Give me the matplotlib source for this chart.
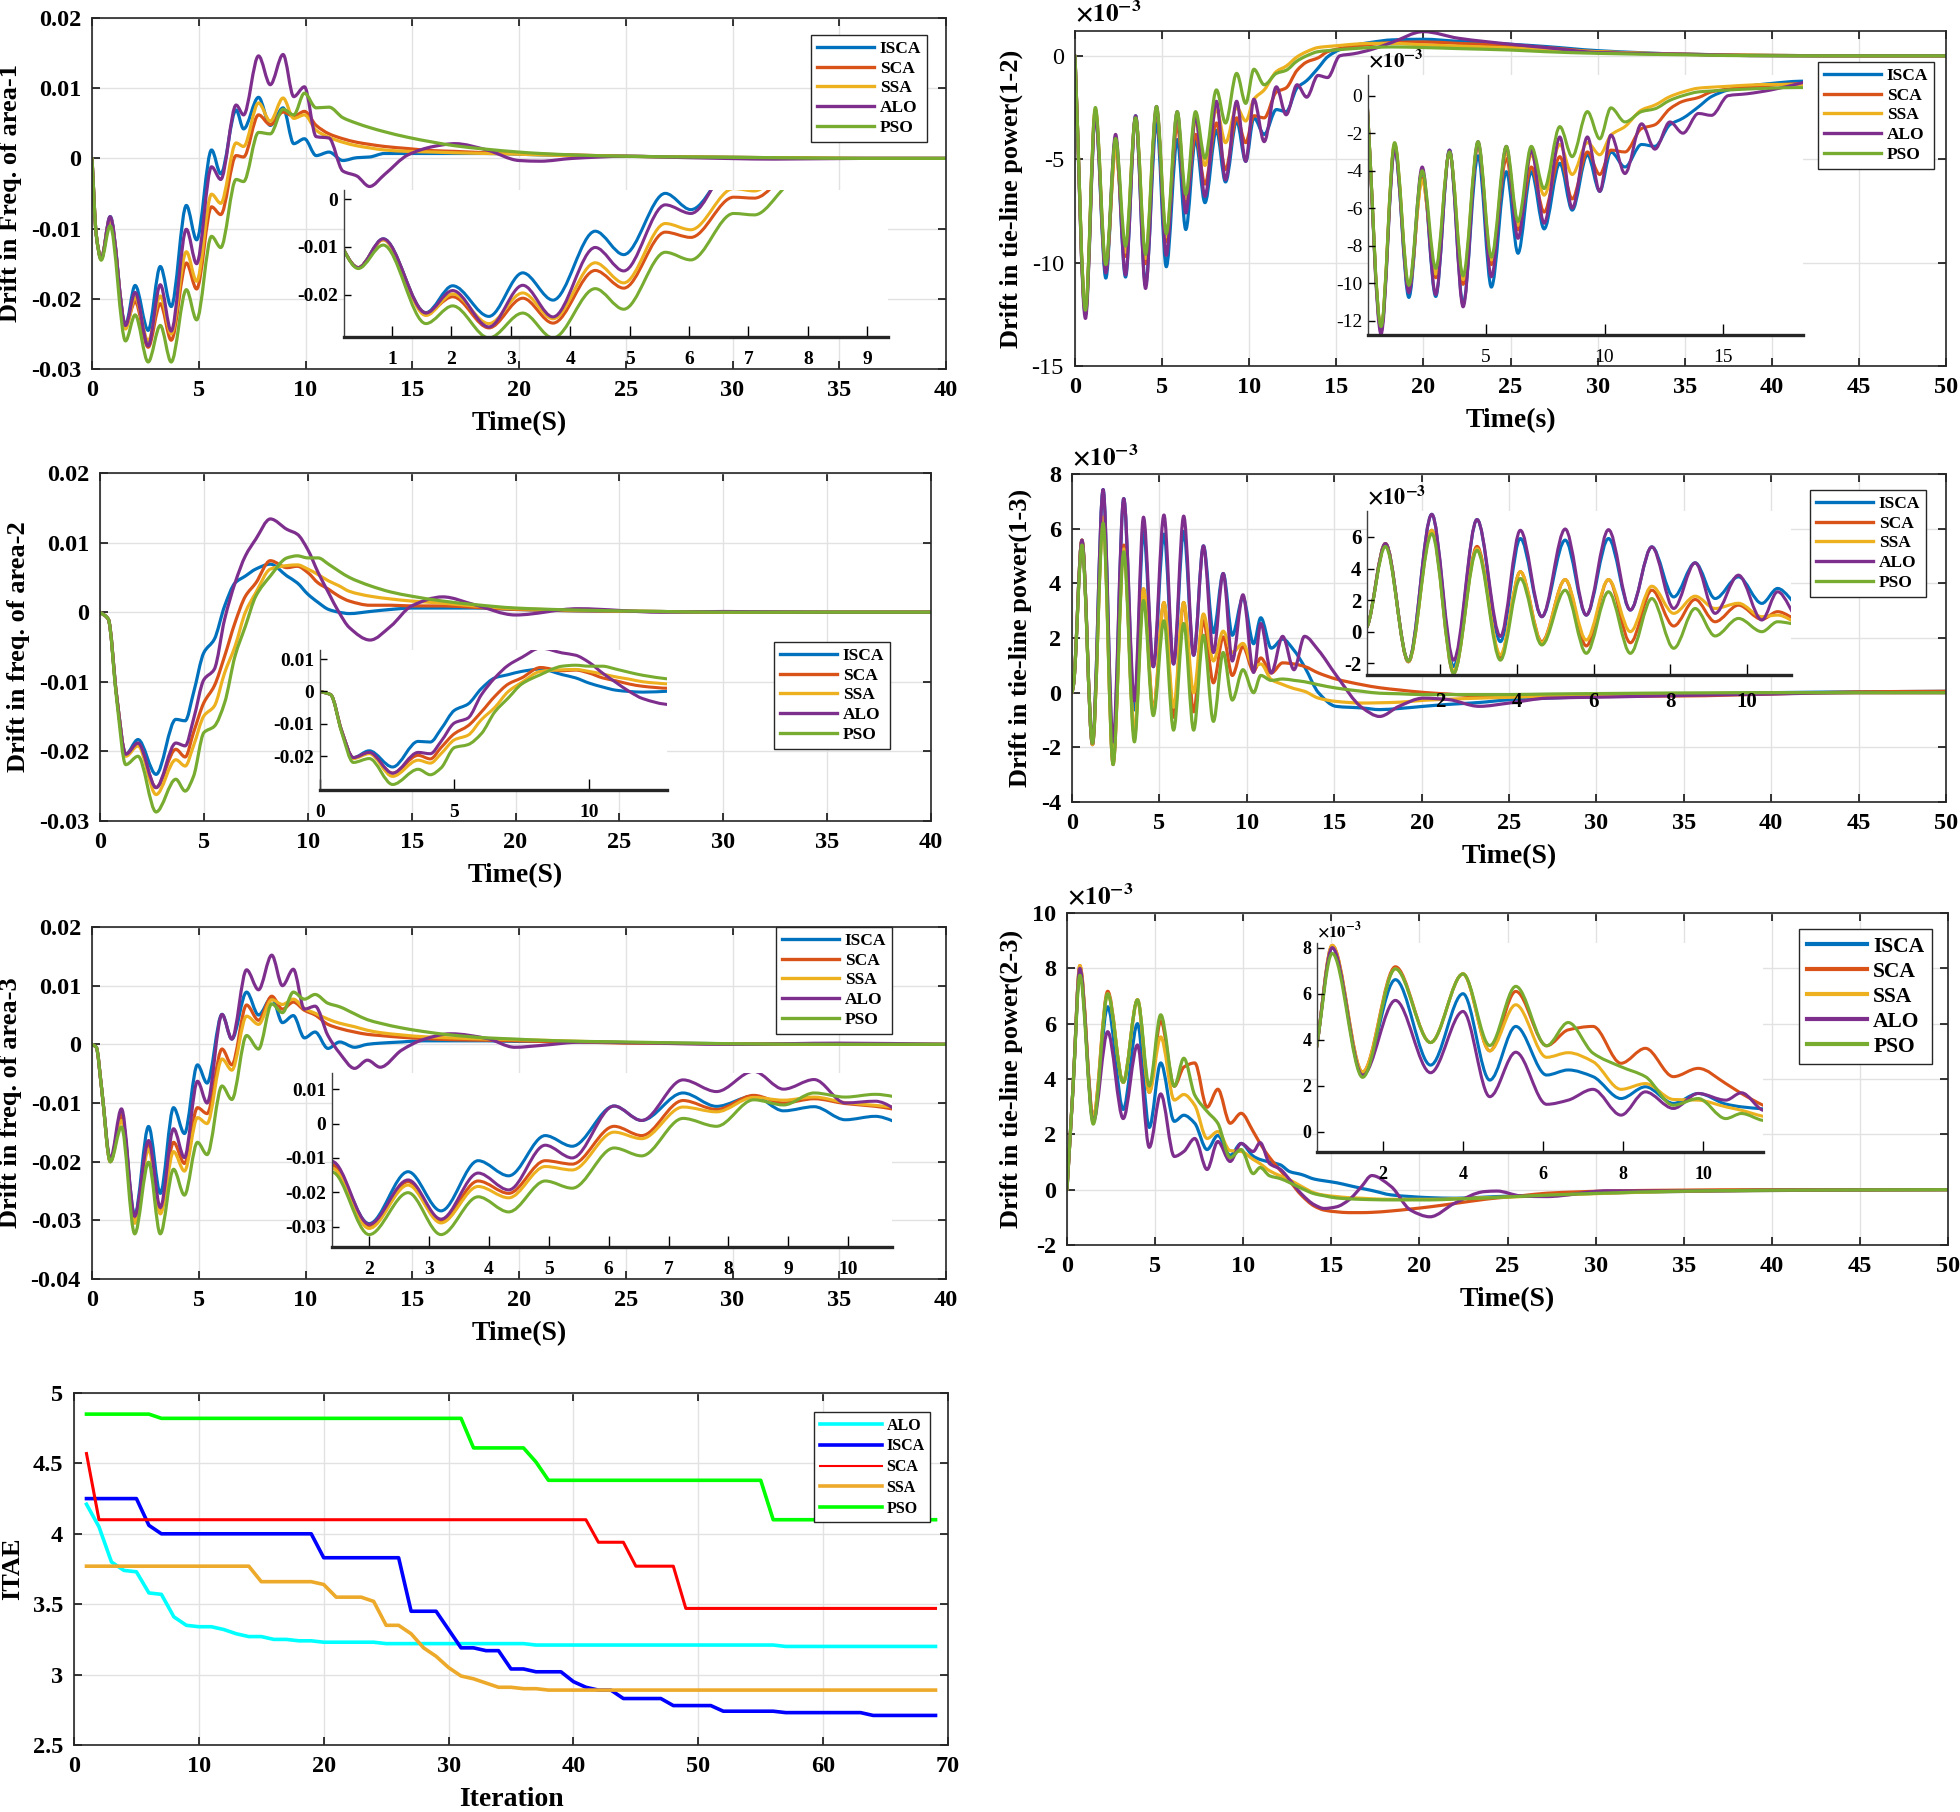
import numpy as np
import matplotlib
matplotlib.use("Agg")
import matplotlib.pyplot as plt
from matplotlib.path import Path
from matplotlib.patches import PathPatch
from matplotlib.lines import Line2D

plt.rcParams['font.family'] = ['Liberation Serif', 'DejaVu Serif']
plt.rcParams['font.weight'] = 'bold'
plt.rcParams['axes.unicode_minus'] = False
plt.rcParams['mathtext.fontset'] = 'stix'

names = ["ISCA", "SCA", "SSA", "ALO", "PSO"]
colors = ["#0072BD", "#D95319", "#EDB120", "#7E2F8E", "#77AC30"]

# ---- frequency deviation, area 1 ----
f1_t = [0, 0.2, 0.43, 0.85, 1.57, 2.02, 2.63, 3.2, 3.71, 4.42, 4.9, 5.6, 6.03, 6.75, 7.1, 7.8, 8.35, 8.95, 9.45,
        9.95, 10.5, 11.1, 11.75, 12.4, 13.0, 13.7, 14.8, 16.0, 17.0, 18.5, 20.0, 21.0, 22.5, 25.0, 28.0, 32.0, 36.0, 40.0]
f1_isca = [0, -0.0109, -0.0143, -0.0083, -0.0237, -0.0181, -0.0245, -0.0154, -0.0211, -0.0067, -0.0116, 0.0012,
           -0.0022, 0.0069, 0.0042, 0.0087, 0.0047, 0.0072, 0.0021, 0.0028, 0.0004, 0.0009, -0.0003, 0.0001, 0.0002,
           0.0007, 0.0007, 0.0007, 0.0007, 0.0007, 0.0006, 0.0005, 0.0004, 0.0003, 0.0002, 0.0001, 0.0, 0.0]
f1_sca = [0, -0.0109, -0.0143, -0.0085, -0.0238, -0.0204, -0.0269, -0.0207, -0.0259, -0.0149, -0.0186, -0.0069,
          -0.0080, 0.0004, 0.0002, 0.0062, 0.0048, 0.0066, 0.0060, 0.0067, 0.0047, 0.0035, 0.0028, 0.0023, 0.0020,
          0.0017, 0.0014, 0.0011, 0.0010, 0.0008, 0.0007, 0.0006, 0.0005, 0.0003, 0.0002, 0.0001, 0.0, 0.0]
f1_ssa = [0, -0.0109, -0.0143, -0.0085, -0.0243, -0.0198, -0.0260, -0.0196, -0.0250, -0.0133, -0.0175, -0.0051,
          -0.0064, 0.0022, 0.0017, 0.0079, 0.0053, 0.0086, 0.0057, 0.0062, 0.0040, 0.0030, 0.0023, 0.0018, 0.0015,
          0.0012, 0.0010, 0.0009, 0.0008, 0.0007, 0.0006, 0.0005, 0.0004, 0.0003, 0.0002, 0.0001, 0.0, 0.0]
f1_alo = [0, -0.0109, -0.0143, -0.0083, -0.0238, -0.0191, -0.0267, -0.0180, -0.0246, -0.0101, -0.0150, -0.0012,
          -0.0030, 0.0076, 0.0062, 0.0146, 0.0105, 0.0148, 0.0088, 0.0102, 0.0031, 0.0029, -0.0018, -0.0025, -0.0040,
          -0.0023, 0.0005, 0.0017, 0.0021, 0.0012, -0.0003, -0.0004, 0.0000, 0.0003, 0.0001, -0.0001, 0.0, 0.0]
f1_pso = [0, -0.0109, -0.0145, -0.0096, -0.0260, -0.0223, -0.0290, -0.0238, -0.0290, -0.0187, -0.0230, -0.0111,
          -0.0127, -0.0030, -0.0033, 0.0037, 0.0035, 0.0070, 0.0062, 0.0093, 0.0072, 0.0073, 0.0058, 0.0050, 0.0044,
          0.0038, 0.0030, 0.0023, 0.0018, 0.0013, 0.0009, 0.0007, 0.0005, 0.0003, 0.0002, 0.0001, 0.0, 0.0]

# ---- tie-line power 1-2 (x1e-3) ----
p12_t = [0, 0.6, 1.17, 1.77, 2.33, 2.9, 3.48, 4.05, 4.68, 5.24, 5.87, 6.36, 6.92, 7.46, 8.12, 8.64, 9.28, 9.8, 10.27,
         10.86, 11.56, 12.12, 12.75, 13.3, 13.95, 14.5, 15.2, 16.0, 17.0, 18.2, 20.0, 22.0, 25.0, 27.0, 30.0, 35.0,
         40.0, 45.0, 50.0]
p12_isca = [0, -12.5, -2.8, -10.75, -4.0, -10.7, -2.9, -11.1, -3.2, -10.2, -4.05, -8.4, -4.05, -7.1, -3.6, -6.1,
            -3.15, -5.1, -3.0, -3.8, -2.6, -2.7, -1.55, -1.2, -0.6, -0.05, 0.3, 0.5, 0.65, 0.77, 0.8, 0.7, 0.56, 0.45,
            0.25, 0.08, 0.02, 0.0, 0.0]
p12_sca = [0, -12.4, -2.6, -10.3, -4.4, -9.7, -3.0, -10.05, -2.6, -9.0, -3.35, -7.15, -3.8, -6.2, -3.25, -5.5, -3.0,
           -4.2, -2.9, -3.0, -1.75, -1.55, -0.7, -0.3, -0.1, 0.2, 0.35, 0.45, 0.55, 0.64, 0.67, 0.6, 0.5, 0.4, 0.2,
           0.07, 0.02, 0.0, 0.0]
p12_ssa = [0, -12.4, -2.6, -10.3, -4.5, -9.5, -3.0, -9.8, -2.6, -8.75, -3.0, -6.9, -3.15, -5.3, -2.6, -4.2, -2.5,
           -3.15, -2.1, -1.65, -0.76, -0.5, -0.05, 0.2, 0.4, 0.45, 0.5, 0.56, 0.6, 0.6, 0.53, 0.47, 0.38, 0.3, 0.2,
           0.08, 0.02, 0.0, 0.0]
p12_alo = [0, -12.7, -2.85, -10.5, -3.8, -10.6, -2.9, -11.25, -2.45, -9.65, -2.7, -7.6, -2.9, -6.8, -2.2, -6.0, -2.2,
           -5.1, -2.1, -4.15, -1.5, -2.85, -1.4, -2.0, -0.95, -1.05, 0.0, 0.1, 0.3, 0.65, 1.17, 0.85, 0.56, 0.4, 0.16,
           0.08, 0.0, 0.0, 0.0]
p12_pso = [0, -12.3, -2.5, -10.1, -4.0, -9.2, -3.0, -9.6, -2.45, -8.6, -2.7, -6.7, -2.7, -4.95, -1.65, -3.25, -0.85,
           -2.3, -0.65, -1.4, -0.85, -0.7, -0.25, 0.0, 0.2, 0.25, 0.3, 0.35, 0.4, 0.43, 0.4, 0.35, 0.28, 0.2, 0.12,
           0.05, 0.0, 0.0, 0.0]

# ---- frequency deviation, area 2 ----
f2_t = [0, 0.4, 0.8, 1.24, 1.83, 2.7, 3.65, 4.1, 4.5, 5.0, 5.5, 6.0, 6.5, 7.0, 7.5, 8.2, 9.0, 9.5, 10.0, 10.5, 11.0,
        11.5, 12.0, 13.0, 14.0, 15.0, 16.5, 18.0, 20.0, 23.0, 27.0, 30.0, 35.0, 40.0]
f2_isca = [0, -0.001, -0.012, -0.0204, -0.0183, -0.0233, -0.0154, -0.0156, -0.0116, -0.0058, -0.0039, 0.0009, 0.0042,
           0.0052, 0.0062, 0.0069, 0.0052, 0.0042, 0.0026, 0.0014, 0.0004, 0.0000, -0.0002, 0.0001, 0.0004, 0.0006,
           0.0006, 0.0006, 0.0004, 0.0002, 0.0001, 0.0, 0.0, 0.0]
f2_sca = [0, -0.001, -0.012, -0.0204, -0.0190, -0.0252, -0.0197, -0.0208, -0.0173, -0.0130, -0.0106, -0.0063,
          -0.0015, 0.0023, 0.0042, 0.0074, 0.0064, 0.0066, 0.0057, 0.0042, 0.0033, 0.0023, 0.0016, 0.0010, 0.0010,
          0.0009, 0.0009, 0.0007, 0.0004, 0.0002, 0.0001, 0.0, 0.0, 0.0]
f2_ssa = [0, -0.001, -0.012, -0.0207, -0.0192, -0.0262, -0.0212, -0.0221, -0.0192, -0.0149, -0.0135, -0.0087,
          -0.0049, 0.0000, 0.0028, 0.0062, 0.0067, 0.0068, 0.0062, 0.0054, 0.0045, 0.0038, 0.0030, 0.0023, 0.0019,
          0.0016, 0.0013, 0.0009, 0.0005, 0.0003, 0.0001, 0.0, 0.0, 0.0]
f2_alo = [0, -0.001, -0.012, -0.0204, -0.0188, -0.0252, -0.0188, -0.0192, -0.0154, -0.0097, -0.0082, -0.0010,
          0.0042, 0.0081, 0.0105, 0.0134, 0.0119, 0.0112, 0.0090, 0.0057, 0.0028, 0.0000, -0.0022, -0.0040, -0.0020,
          0.0009, 0.0022, 0.0011, -0.0004, 0.0005, 0.0000, 0.0001, 0.0, 0.0]
f2_pso = [0, -0.001, -0.0125, -0.0219, -0.0207, -0.0287, -0.0240, -0.0257, -0.0236, -0.0173, -0.0164, -0.0130,
          -0.0063, -0.0020, 0.0023, 0.0052, 0.0078, 0.0081, 0.0078, 0.0078, 0.0069, 0.0059, 0.0050, 0.0038, 0.0029,
          0.0023, 0.0016, 0.0011, 0.0006, 0.0003, 0.0001, 0.0, 0.0, 0.0]

# ---- tie-line power 1-3 (x1e-3) ----
p13_t = [0, 0.09, 0.57, 1.17, 1.78, 2.35, 2.96, 3.57, 4.09, 4.65, 5.26, 5.81, 6.39, 6.96, 7.52, 8.09, 8.65, 9.17,
         9.78, 10.39, 10.8, 11.4, 12.05, 12.7, 13.3, 14.1, 15.1, 16.6, 17.6, 18.7, 20.1, 21.5, 23.3, 25.0, 27.2,
         30.7, 35.0, 40.0, 45.0, 50.0]
p13_isca = [0, 0.3, 5.58, -1.9, 7.43, -2.2, 7.1, -0.63, 5.9, 0.95, 5.8, 1.05, 5.9, 1.37, 5.37, 2.2, 4.36, 2.1, 3.47,
            1.79, 2.74, 1.63, 1.96, 1.55, 0.95, 0.0, -0.5, -0.56, -0.62, -0.58, -0.5, -0.43, -0.36, -0.26, -0.2,
            -0.13, -0.07, 0.0, 0.03, 0.05]
p13_sca = [0, 0.3, 5.58, -1.9, 6.42, -2.63, 5.4, -1.58, 3.8, -0.63, 3.3, -0.9, 3.3, -0.7, 2.63, 0.36, 2.04, 0.63,
           1.68, 0.78, 1.27, 0.72, 1.09, 1.05, 0.96, 0.72, 0.5, 0.29, 0.18, 0.1, 0.01, -0.05, -0.12, -0.13, -0.13,
           -0.13, -0.12, -0.05, 0.03, 0.05]
p13_ssa = [0, 0.3, 5.58, -1.9, 6.42, -2.5, 5.26, -1.47, 3.8, -0.7, 3.3, -0.53, 3.3, 0.0, 2.88, 1.16, 2.25, 1.47, 1.8,
           0.95, 1.05, 0.48, 0.3, 0.15, 0.05, -0.2, -0.32, -0.38, -0.37, -0.35, -0.28, -0.24, -0.2, -0.17, -0.13,
           -0.08, -0.04, -0.02, 0.0, 0.0]
p13_alo = [0, 0.3, 5.58, -1.85, 7.43, -1.8, 7.1, -0.3, 6.42, 0.95, 6.5, 1.05, 6.46, 1.37, 5.37, 1.47, 4.36, 1.16,
           3.58, 0.74, 2.53, 0.72, 2.06, 0.84, 2.06, 1.55, 0.65, -0.55, -0.87, -0.5, -0.2, -0.25, -0.5, -0.38, -0.2,
           -0.16, -0.1, -0.05, 0.0, 0.0]
p13_pso = [0, 0.3, 5.4, -1.85, 6.2, -2.63, 5.15, -1.8, 3.37, -0.84, 2.63, -1.37, 2.53, -1.37, 2.1, -1.05, 1.47,
           -0.27, 0.84, 0.0, 0.63, 0.45, 0.5, 0.45, 0.4, 0.29, 0.17, 0.05, -0.02, -0.04, -0.07, -0.07, -0.07, -0.07,
           -0.05, -0.03, -0.01, 0.0, 0.0, 0.0]

# ---- frequency deviation, area 3 ----
f3_t = [0, 0.2, 0.45, 0.86, 1.38, 2.0, 2.65, 3.2, 3.82, 4.33, 4.94, 5.39, 6.09, 6.55, 7.24, 7.8, 8.42, 8.92, 9.43,
        9.95, 10.45, 11.05, 11.6, 12.3, 12.9, 13.5, 14.5, 15.5, 16.8, 18.5, 19.8, 21.0, 23.0, 25.0, 30.0, 35.0, 40.0]
f3_isca = [0, -0.0005, -0.0075, -0.0200, -0.0120, -0.0291, -0.0140, -0.0254, -0.0108, -0.0152, -0.0035, -0.0066,
           0.0051, 0.0009, 0.0089, 0.0050, 0.0080, 0.0037, 0.0049, 0.0011, 0.0021, -0.0007, 0.0004, -0.0005, 0.0000,
           0.0002, 0.0004, 0.0006, 0.0006, 0.0006, 0.0005, 0.0005, 0.0004, 0.0003, 0.0001, 0.0, 0.0]
f3_sca = [0, -0.0005, -0.0075, -0.0200, -0.0120, -0.0300, -0.0169, -0.0284, -0.0167, -0.0203, -0.0108, -0.0118,
          -0.0008, -0.0035, 0.0067, 0.0041, 0.0082, 0.0060, 0.0072, 0.0058, 0.0050, 0.0034, 0.0027, 0.0021, 0.0017,
          0.0015, 0.0012, 0.0010, 0.0008, 0.0007, 0.0006, 0.0005, 0.0004, 0.0002, 0.0001, 0.0, 0.0]
f3_ssa = [0, -0.0005, -0.0075, -0.0200, -0.0130, -0.0305, -0.0179, -0.0289, -0.0183, -0.0216, -0.0125, -0.0135,
          -0.0025, -0.0044, 0.0048, 0.0034, 0.0076, 0.0068, 0.0077, 0.0061, 0.0053, 0.0043, 0.0036, 0.0030, 0.0024,
          0.0020, 0.0016, 0.0013, 0.0011, 0.0009, 0.0008, 0.0007, 0.0005, 0.0003, 0.0001, 0.0, 0.0]
f3_alo = [0, -0.0005, -0.0075, -0.0195, -0.0110, -0.0293, -0.0164, -0.0278, -0.0144, -0.0193, -0.0063, -0.0100,
          0.0051, 0.0009, 0.0127, 0.0093, 0.0152, 0.0100, 0.0128, 0.0060, 0.0065, 0.0015, -0.0015, -0.0041, -0.0027,
          -0.0039, -0.0010, 0.0008, 0.0018, 0.0010, -0.0005, -0.0002, 0.0004, 0.0003, 0.0000, 0.0002, 0.0]
f3_pso = [0, -0.0005, -0.0075, -0.0200, -0.0141, -0.0323, -0.0201, -0.0323, -0.0213, -0.0257, -0.0167, -0.0188,
          -0.0071, -0.0094, 0.0015, -0.0008, 0.0069, 0.0054, 0.0089, 0.0077, 0.0085, 0.0070, 0.0064, 0.0052, 0.0042,
          0.0036, 0.0028, 0.0022, 0.0016, 0.0011, 0.0009, 0.0007, 0.0005, 0.0004, 0.0001, 0.0, 0.0]

# ---- tie-line power 2-3 (x1e-3) ----
p23_t = [0, 0.35, 0.73, 1.49, 2.31, 3.19, 4.0, 4.67, 5.32, 6.09, 6.63, 7.25, 7.95, 8.56, 9.26, 9.88, 10.57, 10.96,
         11.5, 12.1, 12.65, 13.3, 14.05, 14.6, 15.3, 16.0, 16.7, 17.3, 18.4, 19.5, 20.6, 22.0, 23.7, 24.4, 25.8,
         27.2, 30.7, 34.3, 40.0, 50.0]
p23_isca = [0, 3.78, 8.0, 2.5, 6.61, 2.9, 6.0, 2.25, 4.58, 2.47, 2.69, 2.4, 1.45, 1.96, 1.24, 1.67, 1.21, 1.09, 1.0,
            0.9, 0.65, 0.55, 0.38, 0.32, 0.25, 0.15, 0.05, -0.03, -0.19, -0.25, -0.29, -0.31, -0.27, -0.25, -0.22,
            -0.19, -0.12, -0.07, -0.03, 0.0]
p23_sca = [0, 3.78, 8.1, 2.6, 7.17, 3.88, 6.86, 3.52, 6.1, 3.74, 4.43, 4.58, 2.98, 3.63, 2.4, 2.76, 2.1, 1.67, 1.16,
           0.7, 0.3, -0.2, -0.6, -0.74, -0.8, -0.83, -0.83, -0.82, -0.77, -0.7, -0.62, -0.5, -0.35, -0.3, -0.22,
           -0.13, -0.05, -0.02, 0.0, 0.0]
p23_ssa = [0, 3.78, 8.1, 2.6, 7.08, 3.88, 6.86, 3.52, 5.52, 3.24, 3.44, 3.05, 1.85, 2.1, 1.41, 1.38, 1.09, 0.94,
           0.68, 0.5, 0.35, 0.12, -0.12, -0.2, -0.25, -0.29, -0.31, -0.33, -0.35, -0.35, -0.35, -0.33, -0.29, -0.28,
           -0.25, -0.21, -0.13, -0.07, -0.03, 0.0]
p23_alo = [0, 3.78, 8.0, 2.45, 5.71, 2.57, 5.23, 1.53, 3.46, 1.2, 1.38, 1.85, 0.73, 1.74, 1.02, 1.67, 1.38, 1.7,
           0.94, 0.74, 0.35, -0.15, -0.55, -0.68, -0.62, -0.37, 0.1, 0.51, 0.11, -0.74, -0.98, -0.49, -0.07, -0.05,
           -0.23, -0.25, -0.04, -0.05, -0.02, 0.0]
p23_pso = [0, 3.78, 7.75, 2.37, 7.08, 3.88, 6.86, 3.75, 6.32, 3.74, 4.75, 3.42, 2.83, 2.4, 1.16, 1.45, 0.58, 0.8,
           0.5, 0.4, 0.25, 0.05, -0.15, -0.22, -0.3, -0.33, -0.35, -0.36, -0.37, -0.37, -0.37, -0.34, -0.3, -0.28,
           -0.24, -0.2, -0.12, -0.06, -0.02, 0.0]

# ---- ITAE convergence ----
iteration = list(range(1, 70))
itae_alo = ([4.21, 4.05, 3.80, 3.74, 3.73, 3.58, 3.57, 3.41, 3.35, 3.34, 3.34, 3.32, 3.29, 3.27, 3.27, 3.25, 3.25,
             3.24, 3.24, 3.23, 3.23, 3.23, 3.23, 3.23, 3.22] + [3.22] * 11 + [3.21] * 20 + [3.20] * 13)
itae_isca = ([4.25] * 5 + [4.06] + [4.0] * 13 + [3.83] * 7 + [3.45] * 3 + [3.32, 3.19, 3.19, 3.17, 3.17, 3.04, 3.04,
             3.02, 3.02, 3.02, 2.95, 2.91, 2.89, 2.89] + [2.83] * 4 + [2.78] * 4 + [2.74] * 5 + [2.73] * 7
             + [2.71] * 6)
itae_sca = [4.57] + [4.10] * 40 + [3.94] * 3 + [3.77] * 4 + [3.47] * 21
itae_ssa = ([3.77] * 14 + [3.66] * 5 + [3.64, 3.55, 3.55, 3.55, 3.52, 3.35, 3.35, 3.29, 3.19, 3.13, 3.05, 2.99, 2.97,
            2.94, 2.91, 2.91, 2.90, 2.90] + [2.89] * 32)
itae_pso = [4.85] * 6 + [4.82] * 25 + [4.61] * 5 + [4.51] + [4.38] * 18 + [4.10] * 14

W, H = 1960, 1812
fig = plt.figure(figsize=(W / 100, H / 100), dpi=100)
fig.patch.set_facecolor('white')


def rect(l, r, t, b):
    return [l / W, 1 - b / H, (r - l) / W, (b - t) / H]


def fmt(v):
    return '%g' % (round(v, 6) + 0.0)


def draw_curve(ax, t, y, color, lw=2.3):
    # smooth shape-preserving cubic through the read points
    t = np.asarray(t, float)
    y = np.asarray(y, float)
    h = np.diff(t)
    d = np.diff(y) / h
    m = np.zeros_like(y)
    m[0], m[-1] = d[0], d[-1]
    for i in range(1, len(y) - 1):
        if d[i - 1] * d[i] > 0:
            w1 = 2 * h[i] + h[i - 1]
            w2 = h[i] + 2 * h[i - 1]
            m[i] = (w1 + w2) / (w1 / d[i - 1] + w2 / d[i])
    verts = [(t[0], y[0])]
    codes = [Path.MOVETO]
    for i in range(len(t) - 1):
        verts += [(t[i] + h[i] / 3, y[i] + m[i] * h[i] / 3),
                  (t[i + 1] - h[i] / 3, y[i + 1] - m[i + 1] * h[i] / 3),
                  (t[i + 1], y[i + 1])]
        codes += [Path.CURVE4] * 3
    ax.add_patch(PathPatch(Path(verts, codes), fill=False, edgecolor=color, lw=lw,
                           joinstyle='round', capstyle='round'))


def main_axes(box, xlim, ylim, xticks, yticks, xlabel, ylabel, yweight='bold'):
    ax = fig.add_axes(rect(*box))
    ax.set_xlim(xlim)
    ax.set_ylim(ylim)
    ax.set_xticks(xticks, labels=[fmt(v) for v in xticks], fontsize=17.5, fontweight='bold')
    ax.set_yticks(yticks, labels=[fmt(v) for v in yticks], fontsize=17.5, fontweight=yweight)
    ax.grid(True, color='#e2e2e2', lw=1.0)
    ax.set_axisbelow(True)
    ax.tick_params(direction='in', top=True, right=True, length=6, width=1.1, pad=8)
    for s in ax.spines.values():
        s.set_linewidth(1.2)
        s.set_color('#262626')
    ax.set_xlabel(xlabel, fontsize=20, fontweight='bold', labelpad=7)
    ax.set_ylabel(ylabel, fontsize=19, fontweight='bold', labelpad=6)
    return ax


def add_legend(ax, x, y, labels, cols, size=12.5, hlen=3.3, spacing=0.2, lws=None):
    if lws is None:
        lws = [2.4] * len(cols)
    handles = [Line2D([0], [0], color=c, lw=w) for c, w in zip(cols, lws)]
    leg = ax.legend(handles, labels, loc='upper left', bbox_to_anchor=(x / W, 1 - y / H),
                    bbox_transform=fig.transFigure, fontsize=size, frameon=True, fancybox=False,
                    edgecolor='#262626', framealpha=1, handlelength=hlen, handletextpad=0.3,
                    borderpad=0.35, labelspacing=spacing, borderaxespad=0)
    leg.get_frame().set_linewidth(1.0)


def inset_axes(box, t, series, xlim, ylim, xticks, yticks, size=14, weight='bold', xpad=10):
    ins = fig.add_axes(rect(*box))
    ins.set_facecolor('white')
    ins.spines['top'].set_visible(False)
    ins.spines['right'].set_visible(False)
    ins.spines['bottom'].set_linewidth(2.4)
    ins.spines['bottom'].set_color('#262626')
    ins.spines['left'].set_linewidth(1.0)
    ins.spines['left'].set_color('#404040')
    for y, c in zip(series, colors):
        draw_curve(ins, t, y, c, 2.2)
    ins.set_xlim(xlim)
    ins.set_ylim(ylim)
    ins.set_xticks(xticks, labels=[fmt(v) for v in xticks], fontsize=size, fontweight=weight)
    ins.set_yticks(yticks, labels=[fmt(v) for v in yticks], fontsize=size, fontweight=weight)
    ins.tick_params(direction='in', length=5, width=1.0, pad=4)
    ins.tick_params(axis='x', length=8, pad=xpad)
    return ins


def sci_label(ax, size):
    ax.text(0.0, 1.01, r'$\times10^{-3}$', transform=ax.transAxes, ha='left', va='bottom',
            fontsize=size, fontweight='normal')


# panel A: frequency area 1
f1 = [f1_isca, f1_sca, f1_ssa, f1_alo, f1_pso]
axA = main_axes((92, 946, 18, 369), (0, 40), (-0.03, 0.02), list(range(0, 41, 5)),
                [-0.03, -0.02, -0.01, 0, 0.01, 0.02], 'Time(S)', 'Drift in Freq. of area-1')
for y, c in zip(f1, colors):
    draw_curve(axA, f1_t, y, c)
add_legend(axA, 811, 35, names, colors)
inset_axes((344, 888, 190, 337), f1_t, f1, (0.19, 9.35), (-0.0288, 0.0019), list(range(1, 10)),
           [-0.02, -0.01, 0])

# panel B: tie-line 1-2
p12 = [p12_isca, p12_sca, p12_ssa, p12_alo, p12_pso]
axB = main_axes((1075, 1946, 31, 366), (0, 50), (-15, 1.2), list(range(0, 51, 5)), [-15, -10, -5, 0],
                'Time(s)', 'Drift in tie-line power(1-2)', yweight='normal')
for y, c in zip(p12, colors):
    draw_curve(axB, p12_t, y, c)
sci_label(axB, 18)
add_legend(axB, 1818, 62, names, colors)
insB = inset_axes((1368, 1803, 75, 335), p12_t, p12, (0.05, 18.35), (-12.75, 1.1), [5, 10, 15],
                  [-12, -10, -8, -6, -4, -2, 0], weight='normal')
sci_label(insB, 15)

# panel C: frequency area 2
f2 = [f2_isca, f2_sca, f2_ssa, f2_alo, f2_pso]
axC = main_axes((100, 931, 473, 821), (0, 40), (-0.03, 0.02), list(range(0, 41, 5)),
                [-0.03, -0.02, -0.01, 0, 0.01, 0.02], 'Time(S)', 'Drift in freq. of area-2')
for y, c in zip(f2, colors):
    draw_curve(axC, f2_t, y, c)
add_legend(axC, 774, 642, names, colors)
inset_axes((320, 667, 650, 790), f2_t, f2, (0, 12.9), (-0.0304, 0.0128), [0, 5, 10],
           [-0.02, -0.01, 0, 0.01])

# panel D: tie-line 1-3
p13 = [p13_isca, p13_sca, p13_ssa, p13_alo, p13_pso]
axD = main_axes((1072, 1946, 474, 802), (0, 50), (-4, 8), list(range(0, 51, 5)), [-4, -2, 0, 2, 4, 6, 8],
                'Time(S)', 'Drift in tie-line power(1-3)')
for y, c in zip(p13, colors):
    draw_curve(axD, p13_t, y, c)
sci_label(axD, 18)
add_legend(axD, 1810, 490, names, colors)
insD = inset_axes((1367, 1791, 511, 675), p13_t, p13, (0.09, 11.15), (-2.74, 7.64), [2, 4, 6, 8, 10],
                  [-2, 0, 2, 4, 6], size=15, xpad=12)
sci_label(insD, 16)

# panel E: frequency area 3
f3 = [f3_isca, f3_sca, f3_ssa, f3_alo, f3_pso]
axE = main_axes((92, 946, 927, 1279), (0, 40), (-0.04, 0.02), list(range(0, 41, 5)),
                [-0.04, -0.03, -0.02, -0.01, 0, 0.01, 0.02], 'Time(S)', 'Drift in freq. of area-3')
for y, c in zip(f3, colors):
    draw_curve(axE, f3_t, y, c)
add_legend(axE, 776, 927, names, colors)
inset_axes((332, 892, 1073, 1247), f3_t, f3, (1.38, 10.73), (-0.0359, 0.0147), list(range(2, 11)),
           [-0.03, -0.02, -0.01, 0, 0.01])

# panel F: tie-line 2-3
p23 = [p23_isca, p23_sca, p23_ssa, p23_alo, p23_pso]
axF = main_axes((1067, 1948, 913, 1245), (0, 50), (-2, 10), list(range(0, 51, 5)), [-2, 0, 2, 4, 6, 8, 10],
                'Time(S)', 'Drift in tie-line power(2-3)')
for y, c in zip(p23, colors):
    draw_curve(axF, p23_t, y, c)
sci_label(axF, 18)
add_legend(axF, 1799, 929, names, colors, size=15.5, hlen=2.8, spacing=0.23, lws=[3.0] * 5)
insF = inset_axes((1317, 1763, 943, 1152), p23_t, p23, (0.35, 11.5), (-0.87, 8.2), [2, 4, 6, 8, 10],
                  [0, 2, 4, 6, 8], size=13, xpad=10)
sci_label(insF, 12)

# panel G: ITAE convergence
itae_names = ["ALO", "ISCA", "SCA", "SSA", "PSO"]
itae_colors = ["#00FFFF", "#0000FF", "#FF0000", "#EDA92A", "#00FF00"]
itae_series = [itae_alo, itae_isca, itae_sca, itae_ssa, itae_pso]
axG = main_axes((74, 948, 1393, 1745), (0, 70), (2.5, 5), list(range(0, 71, 10)), [2.5, 3, 3.5, 4, 4.5, 5],
                'Iteration', 'ITAE')
for y, c in zip(itae_series, itae_colors):
    axG.plot(iteration, y, color=c, lw=2.6 if c != "#FF0000" else 2.2, solid_joinstyle='round')
add_legend(axG, 814, 1412, itae_names, itae_colors, size=11.5, hlen=3.9, spacing=0.3,
           lws=[2.6, 2.6, 1.5, 2.6, 2.6])

fig.savefig('out.png', dpi=100, facecolor='white')
